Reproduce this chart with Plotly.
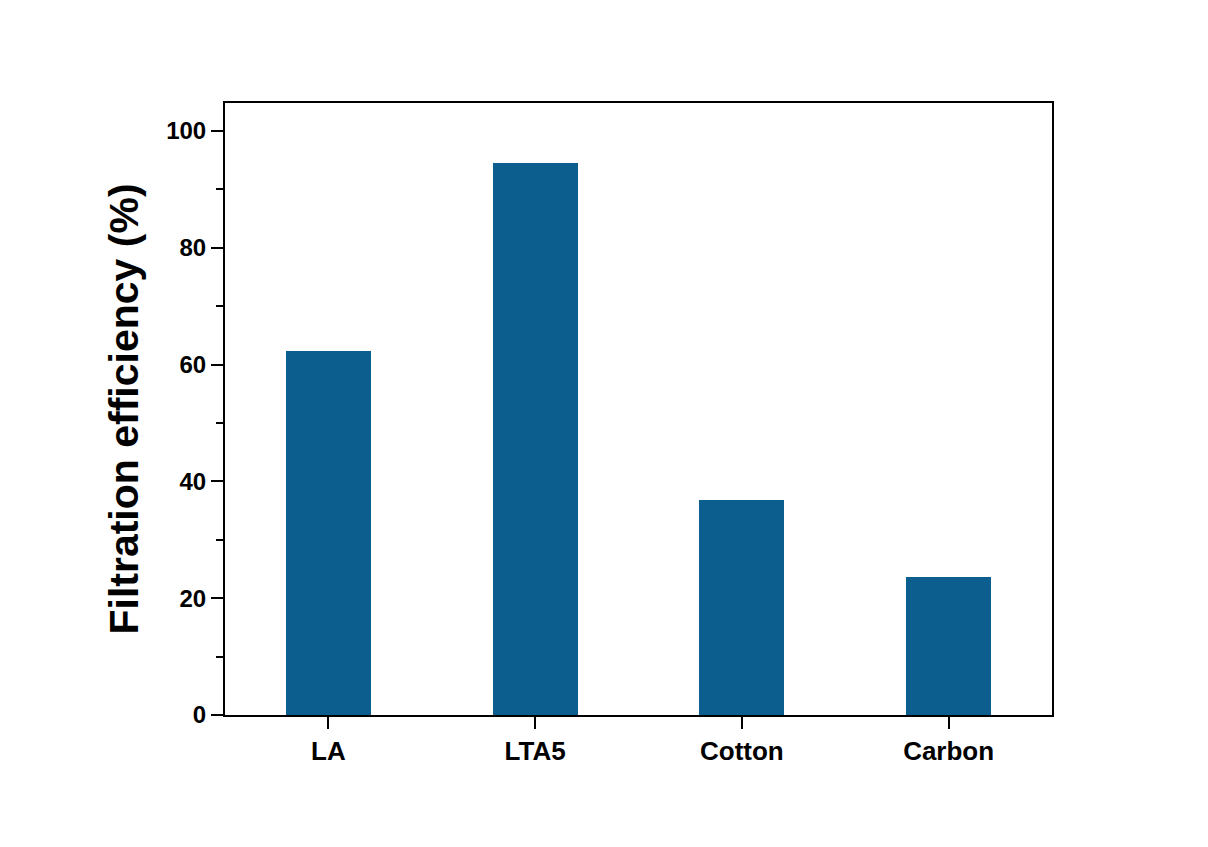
import plotly.graph_objects as go

categories = ["LA", "LTA5", "Cotton", "Carbon"]
efficiency = [62.4, 94.5, 36.9, 23.7]
y_ticks = [0, 20, 40, 60, 80, 100]

fig = go.Figure()
fig.add_trace(go.Bar(
    x=categories, y=efficiency, width=0.41,
    marker=dict(color="#0b5e8e", line=dict(width=0)),
))

font = "Liberation Sans, Arial, sans-serif"
fig.update_layout(
    width=1200, height=839,
    margin=dict(l=217, r=156, t=95, b=132),
    paper_bgcolor="white", plot_bgcolor="white",
    showlegend=False,
    font=dict(family=font, color="black"),
    bargap=0,
)
fig.update_xaxes(
    range=[-0.5, 3.5],
    showline=True, linecolor="black", linewidth=2, mirror=True,
    ticks="outside", ticklen=12, tickwidth=2, tickcolor="black",
    tickfont=dict(size=26, family=font, weight="bold"),
    showgrid=False,
)
fig.update_yaxes(
    range=[0, 104.8],
    tickvals=y_ticks,
    showline=True, linecolor="black", linewidth=2, mirror=True,
    ticks="outside", ticklen=12, tickwidth=2, tickcolor="black",
    minor=dict(dtick=10, tick0=0, ticks="outside", ticklen=7, tickwidth=2, tickcolor="black"),
    tickfont=dict(size=24, family=font, weight="bold"),
    title=dict(text="Filtration efficiency (%)", font=dict(size=41, family=font, weight="bold"), standoff=15),
    showgrid=False, zeroline=False,
)

fig.write_html("out.html")
